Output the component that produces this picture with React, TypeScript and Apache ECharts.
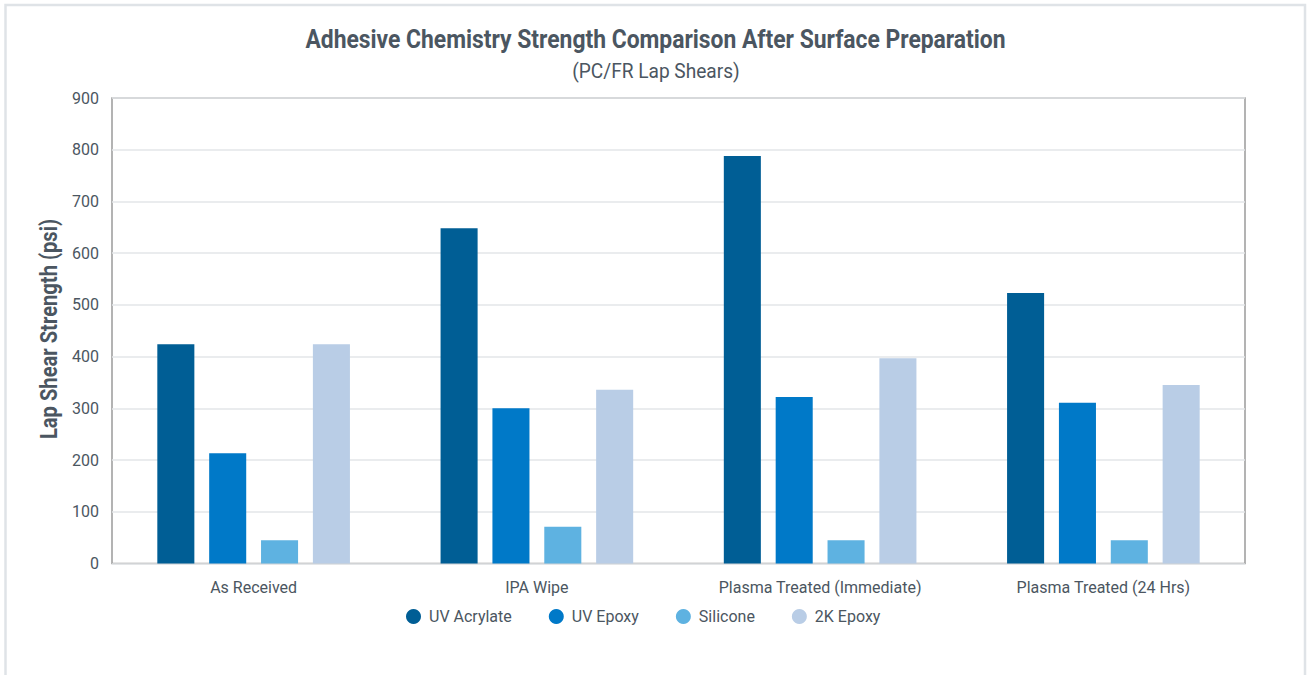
import React, { useEffect, useRef } from "react";
import * as echarts from "echarts";

const categories = ["As Received", "IPA Wipe", "Plasma Treated (Immediate)", "Plasma Treated (24 Hrs)"];
const seriesNames = ["UV Acrylate", "UV Epoxy", "Silicone", "2K Epoxy"];
const uvAcrylate = [424, 648, 788, 523];
const uvEpoxy = [213, 300, 322, 311];
const silicone = [45, 71, 45, 45];
const epoxy2k = [424, 336, 397, 345];
const colors = ["#005e95", "#0079c8", "#5eb2e1", "#b9cde6"];

const titleText = "Adhesive Chemistry Strength Comparison After Surface Preparation";
const subtitleText = "(PC/FR Lap Shears)";
const yAxisTitle = "Lap Shear Strength (psi)";

const FONT = "Roboto, 'Noto Sans', sans-serif";
const TEXT = "#4b5661";

export default function App() {
  const ref = useRef<HTMLDivElement>(null);
  useEffect(() => {
    const chart = echarts.init(ref.current!, null, { renderer: "svg" });
    const values = [uvAcrylate, uvEpoxy, silicone, epoxy2k];
    chart.setOption({
      animation: false,
      backgroundColor: "#ffffff",
      textStyle: { fontFamily: FONT, color: TEXT },
      graphic: [
        {
          type: "rect",
          z: 100,
          silent: true,
          shape: { x: 5.5, y: 5, width: 1299.5, height: 720 },
          style: { fill: "none", stroke: "#dfe3e7", lineWidth: 2.5 },
        },
        {
          type: "text",
          x: 655.5,
          y: 38.5,
          scaleX: 0.88,
          silent: true,
          style: {
            text: titleText,
            fill: TEXT,
            font: "bold 26px " + FONT,
            align: "center",
            verticalAlign: "middle",
          },
        },
        {
          type: "text",
          x: 656,
          y: 71,
          scaleX: 0.91,
          silent: true,
          style: {
            text: subtitleText,
            fill: TEXT,
            font: "21px " + FONT,
            align: "center",
            verticalAlign: "middle",
          },
        },
        {
          type: "text",
          x: 48,
          y: 329,
          rotation: Math.PI / 2,
          scaleX: 0.84,
          silent: true,
          style: {
            text: yAxisTitle,
            fill: TEXT,
            font: "bold 24px " + FONT,
            align: "center",
            verticalAlign: "middle",
          },
        },
      ],
      legend: {
        left: 401,
        top: 603.5,
        icon: "circle",
        itemWidth: 15,
        itemHeight: 15,
        itemGap: 37,
        data: seriesNames,
        textStyle: { fontFamily: FONT, fontSize: 16, color: TEXT, padding: [0, 0, 0, 3] },
      },
      grid: {
        left: 112,
        right: 62,
        top: 98,
        bottom: 111.5,
        show: true,
        borderColor: "#9b9b9b",
        borderWidth: 1.5,
        backgroundColor: "#ffffff",
      },
      xAxis: {
        type: "category",
        data: categories,
        axisLine: { show: false },
        axisTick: { show: false },
        axisLabel: { fontFamily: FONT, fontSize: 16, color: TEXT, margin: 16, interval: 0 },
      },
      yAxis: {
        type: "value",
        min: 0,
        max: 900,
        interval: 100,
        axisLine: { show: false },
        axisTick: { show: false },
        axisLabel: { fontFamily: FONT, fontSize: 16, color: TEXT, margin: 13 },
        splitLine: { lineStyle: { color: "#e3e6e9", width: 1.5 } },
      },
      series: seriesNames.map((name, i) => ({
        name,
        type: "bar",
        data: values[i],
        barGap: "40%",
        barCategoryGap: "32%",
        itemStyle: { color: colors[i] },
      })),
    });
    return () => chart.dispose();
  }, []);
  return (
    <div
      ref={ref}
      style={{ position: "fixed", left: 0, top: 0, width: 1307, height: 675 }}
    />
  );
}
